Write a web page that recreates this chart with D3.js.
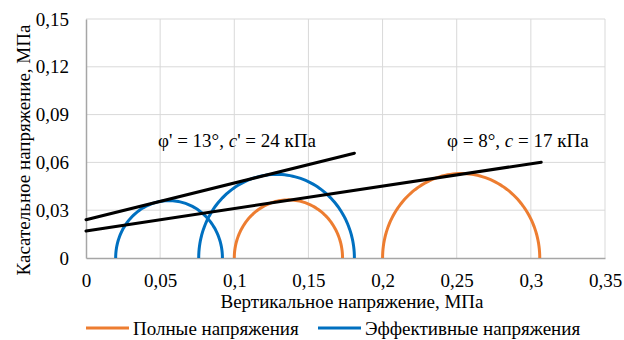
<!DOCTYPE html>
<html><head><meta charset="utf-8">
<script src="https://cdn.jsdelivr.net/npm/d3@7"></script>
</head>
<body style="margin:0"><svg id="chart" width="624" height="340" font-family="Liberation Serif" style="font-family:'Liberation Serif';background:#fff"></svg>
<script>
const xTicks = [0, 0.05, 0.1, 0.15, 0.2, 0.25, 0.3, 0.35];
const yTicks = [0, 0.03, 0.06, 0.09, 0.12, 0.15];
// Mohr circles: [sigma3, sigma1] (MPa)
const totalCircles = [[0.1, 0.173], [0.2, 0.306]];
const effectiveCircles = [[0.02, 0.092], [0.076, 0.181]];
// envelopes: c (MPa), phi (deg), xEnd (MPa)
const totalEnv = {c: 0.017, phi: 8, xEnd: 0.307};
const effEnv = {c: 0.024, phi: 13, xEnd: 0.181};
const seriesNames = ["Полные напряжения", "Эффективные напряжения"];
const colors = ["#ED7D31", "#0070C0"];
const FS = 19;

const svg = d3.select("#chart");
const m = {l: 86, r: 19, t: 19, b: 82};
const W = 624, H = 340;
const x = d3.scaleLinear().domain([0, 0.35]).range([m.l, W - m.r]);
const y = d3.scaleLinear().domain([0, 0.15]).range([H - m.b, m.t]);
const fmt = d => d === 0 ? "0" : String(d).replace(".", ",");

const T = sel => sel.attr("font-size", FS).attr("fill", "#000")
  .attr("font-family", "Liberation Serif").style("font-family", "'Liberation Serif'");

// grid
svg.append("g").selectAll("line").data(yTicks.filter(d => d > 0)).join("line")
  .attr("x1", m.l).attr("x2", W - m.r).attr("y1", d => y(d)).attr("y2", d => y(d))
  .attr("stroke", "#d9d9d9").attr("stroke-width", 1);
svg.append("g").selectAll("line").data(xTicks.filter(d => d > 0)).join("line")
  .attr("y1", m.t).attr("y2", H - m.b).attr("x1", d => x(d)).attr("x2", d => x(d))
  .attr("stroke", "#d9d9d9").attr("stroke-width", 1);

// axes
const xAxis = svg.append("g").attr("transform", `translate(0,${H - m.b})`)
  .call(d3.axisBottom(x).tickValues(xTicks).tickFormat(fmt).tickSize(0).tickPadding(16));
const yAxis = svg.append("g").attr("transform", `translate(${m.l},0)`)
  .call(d3.axisLeft(y).tickValues(yTicks).tickFormat(fmt).tickSize(0).tickPadding(17));
[xAxis, yAxis].forEach(a => {
  T(a);
  a.select(".domain").attr("stroke", "#a6a6a6").attr("stroke-width", 1.5);
  T(a.selectAll("text"));
});

// circles
const arc = (s3, s1) => {
  const c = (s3 + s1) / 2, r = (s1 - s3) / 2;
  const pts = d3.range(0, 181, 2).map(a => [c + r * Math.cos(a * Math.PI / 180), r * Math.sin(a * Math.PI / 180)]);
  return d3.line().x(d => x(d[0])).y(d => y(d[1]))(pts);
};
svg.append("g").selectAll("path").data(effectiveCircles).join("path")
  .attr("d", d => arc(d[0], d[1])).attr("fill", "none").attr("stroke", colors[1]).attr("stroke-width", 3);
svg.append("g").selectAll("path").data(totalCircles).join("path")
  .attr("d", d => arc(d[0], d[1])).attr("fill", "none").attr("stroke", colors[0]).attr("stroke-width", 3);

// envelopes
[effEnv, totalEnv].forEach(e => {
  const t = Math.tan(e.phi * Math.PI / 180);
  svg.append("line")
    .attr("x1", x(0)).attr("y1", y(e.c))
    .attr("x2", x(e.xEnd)).attr("y2", y(e.c + t * e.xEnd))
    .attr("stroke", "#000").attr("stroke-width", 3).attr("stroke-linecap", "round");
});

// annotations
const ann1 = T(svg.append("text")).attr("x", 158).attr("y", 147);
ann1.append("tspan").text("φ' = 13°, ");
ann1.append("tspan").attr("font-style", "italic").text("c");
ann1.append("tspan").text("' = 24 кПа");
const ann2 = T(svg.append("text")).attr("x", 447).attr("y", 147);
ann2.append("tspan").text("φ = 8°, ");
ann2.append("tspan").attr("font-style", "italic").text("c");
ann2.append("tspan").text(" = 17 кПа");

// axis titles
T(svg.append("text")).attr("x", 352).attr("y", 308).attr("text-anchor", "middle")
  .text("Вертикальное напряжение, МПа");
T(svg.append("text")).attr("transform", `translate(30,150) rotate(-90)`)
  .attr("text-anchor", "middle").text("Касательное напряжение, МПа");

// legend
const leg = svg.append("g");
const legX = [86, 318];
seriesNames.forEach((n, i) => {
  leg.append("line").attr("x1", legX[i]).attr("x2", legX[i] + 43).attr("y1", 328).attr("y2", 328)
    .attr("stroke", colors[i]).attr("stroke-width", 3);
  T(leg.append("text")).attr("x", legX[i] + 47).attr("y", 335).text(n);
});
</script></body></html>
